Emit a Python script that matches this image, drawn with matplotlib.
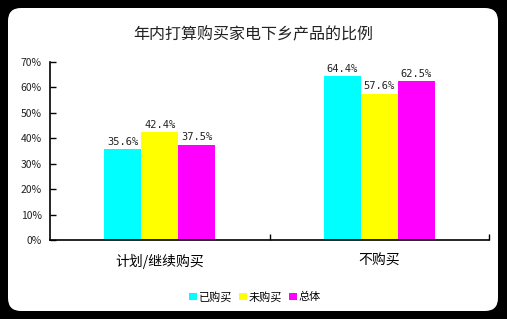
"""
年内打算购买家电下乡产品的比例 - grouped bar chart
"""

import numpy as np
import matplotlib.pyplot as plt
from matplotlib.patches import FancyBboxPatch

plt.rcParams['font.family'] = ['Noto Sans CJK SC', 'DejaVu Sans']

# Data
categories = ['计划/继续购买', '不购买']
series_names = ['已购买', '未购买', '总体']
bought = [35.6, 64.4]
not_bought = [42.4, 57.6]
overall = [37.5, 62.5]
y_ticks = [0, 10, 20, 30, 40, 50, 60, 70]

colors = ['#00FFFF', '#FFFF00', '#FF00FF']
series = [bought, not_bought, overall]

W, H = 507, 319
fig = plt.figure(figsize=(W / 100, H / 100), dpi=100)
fig.patch.set_facecolor('black')

# rounded white card, on its own background axes
bg = fig.add_axes([0, 0, 1, 1], zorder=-1)
bg.set_axis_off()
bg.set_xlim(0, W)
bg.set_ylim(0, H)
bg.add_patch(FancyBboxPatch((8, 8), 490, 303,
                            boxstyle='round,pad=0,rounding_size=13',
                            facecolor='white', edgecolor='none'))

ax = fig.add_axes([50 / W, (H - 240) / H, 439 / W, 178 / H])
ax.set_facecolor('none')

x = np.arange(len(categories))
bw = 0.168
for i, (vals, col) in enumerate(zip(series, colors)):
    pos = x + (i - 1) * bw
    ax.bar(pos, vals, width=bw, color=col, label=series_names[i], zorder=2)
    for p, v in zip(pos, vals):
        ax.text(p, v + 1.0, f'{v:.1f}%', ha='center', va='bottom',
                fontsize=7.5, family='DejaVu Sans Mono', color='#222222')

ax.set_xlim(-0.5, 1.5)
ax.set_ylim(0, 70)
ax.set_yticks(y_ticks)
ax.set_yticklabels([f'{t}%' for t in y_ticks], fontsize=7.5, color='#222222')
ax.set_xticks([0.5, 1.5], minor=False)
ax.set_xticklabels([])
ax.set_xticks(x, minor=True)
ax.set_xticklabels(categories, minor=True, fontsize=10)
ax.tick_params(axis='x', which='minor', length=0, pad=10)
ax.tick_params(axis='x', which='major', direction='in', length=4, width=1)
ax.tick_params(axis='y', direction='in', length=4, width=1, pad=6)

for s in ['top', 'right']:
    ax.spines[s].set_visible(False)
for s in ['left', 'bottom']:
    ax.spines[s].set_linewidth(1.2)

fig.text(0.5, (H - 35) / H, '年内打算购买家电下乡产品的比例',
         ha='center', va='center', fontsize=11.5, color='#222222')

ax.legend(loc='center', bbox_to_anchor=(255 / W, (H - 297) / H),
          bbox_transform=fig.transFigure, ncol=3, frameon=False,
          fontsize=8, handlelength=0.7, handleheight=0.7,
          handletextpad=0.2, columnspacing=0.6)

fig.savefig('out.png', dpi=100, facecolor='black')
